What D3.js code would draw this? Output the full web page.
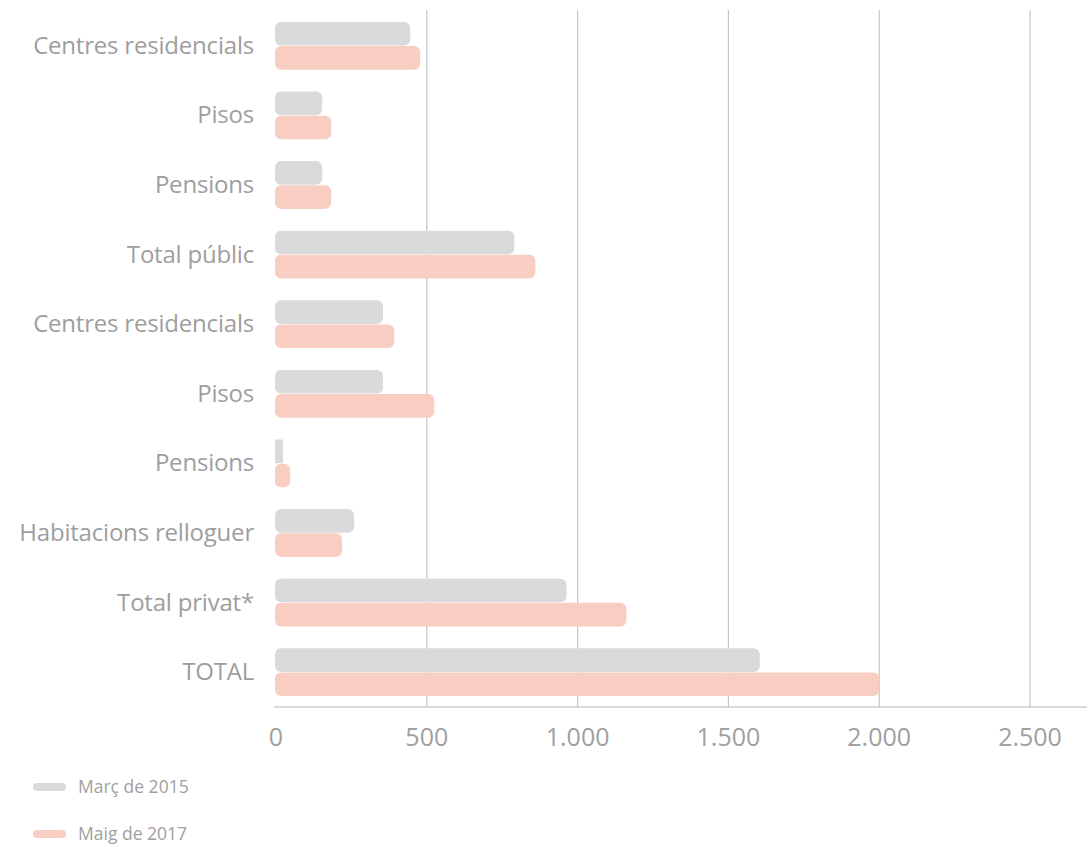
<!DOCTYPE html>
<html>
<head>
<meta charset="utf-8">
<script src="https://cdn.jsdelivr.net/npm/d3@7"></script>
<style>
  body { margin: 0; background: #fff; }
  text { font-family: "Open Sans", sans-serif; }
</style>
</head>
<body>
<div id="chart"></div>
<script>
const categories = ["Centres residencials", "Pisos", "Pensions", "Total públic",
  "Centres residencials ", "Pisos ", "Pensions ", "Habitacions relloguer", "Total privat*", "TOTAL"];
const marc2015 = [445, 153, 153, 790, 355, 355, 23, 259, 963, 1604];
const maig2017 = [478, 183, 183, 860, 392, 525, 47, 219, 1162, 2000];
const seriesNames = ["Març de 2015", "Maig de 2017"];
const colors = ["#dadada", "#f8cdc2"];
const ticks = [0, 500, 1000, 1500, 2000, 2500];

const W = 1087, H = 846;
const svg = d3.select("#chart").append("svg").attr("width", W).attr("height", H);

const x = d3.scaleLinear().domain([0, 2500]).range([276, 1030]);
const y = d3.scaleBand().domain(categories).range([11, 707]).paddingInner(0.3).paddingOuter(0.15);
const sub = d3.scaleBand().domain([0, 1]).range([0, y.bandwidth()]).padding(0.02);

// gridlines
svg.append("g").selectAll("line").data(ticks.slice(1)).enter().append("line")
  .attr("x1", d => x(d)).attr("x2", d => x(d))
  .attr("y1", 10).attr("y2", 707)
  .attr("stroke", "#c6c6c6").attr("stroke-width", 1.2);

// bars
const series = [marc2015, maig2017];
series.forEach((vals, si) => {
  svg.append("g").selectAll("rect").data(vals).enter().append("rect")
    .attr("x", x(0) - 1)
    .attr("y", (d, i) => y(categories[i]) + sub(si))
    .attr("width", d => x(d) - x(0) + 1)
    .attr("height", sub.bandwidth())
    .attr("rx", d => (x(d) - x(0)) > 10 ? 6 : 0)
    .attr("fill", colors[si]);
});

// x axis line
svg.append("line").attr("x1", 274).attr("x2", 1087).attr("y1", 707).attr("y2", 707)
  .attr("stroke", "#b5b5b5").attr("stroke-width", 1.2);

// tick labels
svg.append("g").selectAll("text").data(ticks).enter().append("text")
  .attr("x", d => x(d)).attr("y", 746)
  .attr("text-anchor", "middle")
  .attr("fill", "#a0a0a0").attr("font-size", 25)
  .text(d => d3.format(",")(d).replace(/,/g, "."));

// category labels
svg.append("g").selectAll("text").data(categories).enter().append("text")
  .attr("x", 254).attr("y", d => y(d) + y.bandwidth() / 2 + 8)
  .attr("text-anchor", "end")
  .attr("fill", "#9e9e9e").attr("font-size", 24).attr("letter-spacing", -0.2)
  .text(d => d.trim());

// legend
const leg = svg.append("g").selectAll("g").data(seriesNames).enter().append("g")
  .attr("transform", (d, i) => "translate(33," + (787 + i * 47) + ")");
leg.append("rect").attr("x", 0).attr("y", -4).attr("width", 33).attr("height", 8)
  .attr("rx", 4).attr("fill", (d, i) => colors[i]);
leg.append("text").attr("x", 45).attr("y", 6)
  .attr("fill", "#a0a0a0").attr("font-size", 17.5)
  .text(d => d);
</script>
</body>
</html>
